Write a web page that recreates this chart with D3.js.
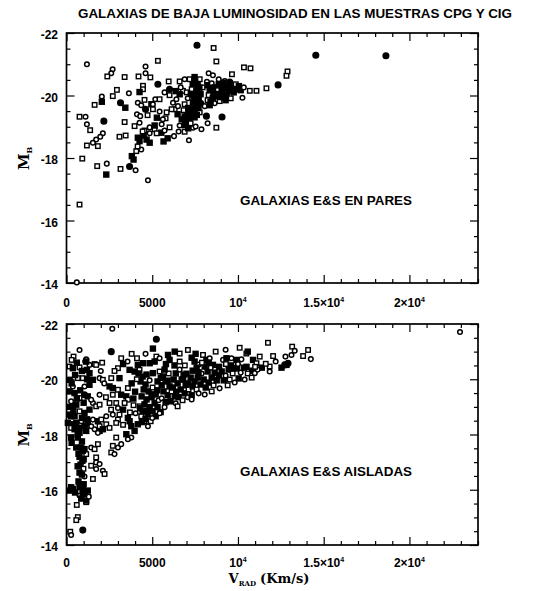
<!DOCTYPE html>
<html>
<head>
<meta charset="utf-8">
<script src="https://cdn.jsdelivr.net/npm/d3@7"></script>
<style>
  body { margin: 0; background: #fff; }
  text { fill: #000; }
</style>
</head>
<body>
<svg id="chart" width="535" height="591"></svg>
<script>
// ---- text and tick definitions ----
const chartTitle = "GALAXIAS DE BAJA LUMINOSIDAD EN LAS MUESTRAS CPG Y CIG";
const panelNames = ["GALAXIAS E&S EN PARES", "GALAXIAS E&S AISLADAS"];
const xMajorTicks = [0, 5000, 10000, 15000, 20000];
// [mantissa, exponent] for each major x tick label
const xTickLabels = [["0", ""], ["5000", ""], ["10", "4"], ["1.5\u00d710", "4"], ["2\u00d710", "4"]];
const yMajorTicks = [-22, -20, -18, -16, -14];
const yTickLabels = ["-22", "-20", "-18", "-16", "-14"];
const xDomain = [0, 24000];
const yDomain = [-22, -14];

// ---- galaxies: [V_RAD (km/s), M_B, marker] ; s/c = open square/circle, fs/fc = filled ----
const pairGalaxies = [
  [7610,-21.61,'fc'],[8580,-21.52,'s'],[1190,-21.00,'c'],[5330,-21.11,'s'],[8740,-21.09,'s'],
  [4610,-20.93,'c'],[4610,-20.71,'c'],[4890,-20.58,'s'],[2690,-20.84,'c'],[2610,-20.71,'c'],
  [2380,-20.61,'s'],[3390,-20.59,'s'],[4200,-20.61,'s'],[10350,-20.90,'s'],[10730,-20.87,'s'],
  [8290,-20.71,'c'],[8540,-20.65,'c'],[9650,-20.68,'s'],[5960,-20.45,'s'],[6600,-20.45,'s'],
  [6890,-20.52,'c'],[8190,-20.44,'c'],[5330,-20.36,'fc'],[4460,-20.31,'s'],[4460,-20.20,'s'],
  [4260,-20.11,'fs'],[3640,-20.07,'c'],[2940,-20.18,'s'],[2700,-19.98,'s'],[2060,-19.97,'c'],
  [1640,-19.70,'s'],[2060,-19.80,'fs'],[3150,-19.77,'fc'],[3430,-19.61,'fs'],[4160,-19.77,'c'],
  [4360,-19.69,'c'],[4550,-19.86,'s'],[5180,-19.88,'c'],[4950,-19.72,'fs'],[5430,-19.88,'s'],
  [6010,-20.20,'fc'],[6790,-20.15,'s'],[6210,-19.77,'c'],[6410,-19.88,'c'],[6890,-19.72,'s'],
  [10260,-19.93,'c'],[10690,-20.15,'s'],[11080,-20.15,'s'],[11660,-20.23,'s'],[12340,-20.34,'fc'],
  [12890,-20.77,'s'],[12830,-20.63,'s'],[760,-19.32,'s'],[1110,-19.32,'c'],[2180,-19.18,'fc'],
  [1190,-19.08,'c'],[1380,-18.89,'s'],[2120,-18.79,'c'],[1970,-18.68,'c'],[1730,-18.59,'c'],
  [1540,-18.49,'c'],[1190,-18.40,'s'],[1830,-18.38,'s'],[920,-17.98,'s'],[1790,-17.74,'s'],
  [2350,-17.82,'c'],[2320,-17.47,'fs'],[3150,-17.65,'s'],[3680,-17.73,'fc'],[4030,-17.61,'c'],
  [4750,-17.29,'c'],[3090,-18.68,'s'],[3450,-18.72,'s'],[3390,-19.15,'s'],[3810,-18.06,'fs'],
  [4070,-18.22,'s'],[4360,-18.27,'c'],[4160,-18.65,'fs'],[4260,-18.54,'fs'],[4850,-18.49,'fs'],
  [3970,-19.02,'s'],[4260,-19.13,'c'],[4110,-19.40,'c'],[4300,-19.34,'c'],[5270,-19.29,'fs'],
  [5780,-19.27,'s'],[6270,-18.70,'c'],[7140,-18.57,'c'],[6890,-18.84,'s'],[7380,-18.97,'c'],
  [7870,-18.92,'c'],[8740,-18.97,'s'],[9070,-19.31,'fc'],[8160,-19.34,'fc'],[6310,-19.56,'s'],
  [6500,-19.66,'c'],[5620,-19.24,'c'],[5530,-18.81,'fs'],[5040,-19.72,'c'],[5040,-19.56,'s'],
  [4550,-18.88,'s'],[4850,-18.98,'c'],[5140,-18.92,'s'],[5720,-18.88,'c'],[6010,-18.98,'s'],
  [760,-16.51,'s'],[600,-14.02,'c'],[14540,-21.29,'fc'],[18630,-21.27,'fc'],
  [7180,-20.52,'s'],[7470,-20.59,'fs'],[7770,-20.52,'s'],[7360,-20.36,'fs'],[7650,-20.33,'fs'],
  [7300,-20.20,'s'],[7590,-20.14,'fs'],[7820,-20.04,'fs'],[7420,-19.98,'fc'],[7710,-19.88,'fs'],
  [7360,-19.78,'s'],[7590,-19.69,'fs'],[7820,-19.75,'fc'],[7300,-19.59,'fs'],[7530,-19.53,'fs'],
  [7770,-19.46,'s'],[7070,-19.43,'fs'],[6890,-19.33,'fs'],[7180,-19.27,'fc'],[7470,-19.30,'fs'],
  [6830,-19.53,'s'],[7070,-19.91,'c'],[7010,-20.10,'s'],[7940,-20.26,'s'],[6600,-20.04,'fs'],
  [6370,-20.14,'fs'],[6660,-20.26,'c'],
  [8230,-20.33,'fs'],[8470,-20.39,'c'],[8640,-20.26,'fs'],[8880,-20.36,'fs'],[8350,-20.17,'fs'],
  [8580,-20.10,'fs'],[8820,-20.17,'s'],[9050,-20.23,'fs'],[8290,-20.01,'s'],[8530,-19.91,'fs'],
  [8760,-19.98,'fs'],[9000,-20.04,'fc'],[8230,-19.85,'s'],[8640,-19.75,'c'],[8930,-19.82,'s'],
  [9170,-19.94,'fs'],[9340,-20.01,'fs'],[9460,-20.14,'fs'],[9280,-20.33,'fs'],[9520,-20.43,'fc'],
  [9230,-20.46,'c'],[8880,-20.52,'c'],[9640,-20.26,'fs'],[9930,-20.20,'fs'],[10160,-20.17,'fs'],
  [9870,-20.36,'s'],[10340,-20.26,'c'],[9280,-19.85,'fs'],[9580,-19.91,'s'],[8060,-19.66,'c'],
  [8350,-19.69,'fs'],
  [6010,-20.01,'s'],[5720,-20.10,'c'],[6130,-19.56,'s'],[6480,-19.40,'fs'],[6720,-19.24,'fs'],
  [6950,-19.18,'fs'],[7240,-19.11,'s'],[6600,-19.04,'c'],[5840,-19.46,'s'],[5430,-19.49,'c'],
  [4730,-19.37,'s'],[4610,-19.56,'fc'],[5550,-19.08,'c'],[5140,-19.04,'fs'],[4850,-18.79,'c'],
  [4500,-18.72,'fs'],[4440,-18.85,'s'],[4670,-18.59,'fs'],[5260,-18.79,'s'],[5900,-18.63,'fs'],
  [5660,-18.53,'fs'],[6540,-18.85,'c'],[7530,-19.01,'c'],[8230,-19.11,'c'],[4150,-18.37,'s'],
  [3910,-17.95,'fs'],
  [7500,-20.45,'fs'],[7750,-20.25,'fs'],[7250,-20.05,'fs'],[7650,-19.95,'fs'],[7450,-19.82,'fs'],
  [7700,-19.60,'fs'],[7400,-19.45,'fs'],[7100,-19.60,'fs'],[7600,-19.38,'fs'],[8450,-20.22,'fs'],
  [8700,-20.05,'fs'],[9100,-20.10,'fs'],[8950,-19.95,'fs'],[9400,-20.25,'fs'],[9750,-20.10,'fs'],
  [10050,-20.30,'fs'],[8400,-19.80,'fs'],[9150,-20.40,'fs'],[6900,-19.05,'fs'],[7100,-18.95,'fs']
];

const isolatedGalaxies = [
  [2670,-21.83,'c'],[5240,-21.45,'fc'],[11750,-21.32,'s'],[13160,-21.18,'s'],[13310,-21.03,'c'],
  [760,-21.06,'c'],[2610,-21.00,'fc'],[5040,-21.11,'fs'],[7080,-21.06,'s'],[410,-20.82,'s'],
  [1150,-20.72,'c'],[1090,-20.64,'c'],[2080,-20.60,'s'],[3190,-20.76,'s'],[4110,-20.76,'s'],
  [5240,-20.82,'s'],[5430,-20.76,'c'],[5140,-20.64,'fs'],[5920,-20.88,'fs'],[6010,-20.70,'fs'],
  [4850,-20.58,'fs'],[4460,-20.58,'fs'],[4160,-20.52,'fs'],[6600,-20.64,'s'],[7300,-20.78,'fs'],
  [7470,-20.64,'fs'],[7710,-20.53,'c'],[7960,-20.88,'s'],[8160,-20.70,'fs'],[8350,-20.76,'c'],
  [8540,-20.52,'fs'],[9130,-20.70,'c'],[9330,-20.76,'fs'],[9620,-20.76,'c'],[9910,-20.70,'fs'],
  [10200,-20.72,'c'],[10490,-20.93,'s'],[10880,-20.70,'fs'],[11270,-20.82,'s'],[11080,-20.58,'s'],
  [10820,-20.31,'fs'],[10980,-20.22,'c'],[11850,-20.46,'s'],[12050,-20.84,'s'],[12540,-20.42,'fs'],
  [12830,-20.52,'fs'],[13120,-20.88,'c'],[9750,-20.40,'fc'],[180,-20.46,'s'],[760,-20.43,'s'],
  [1340,-20.52,'c'],[1640,-20.55,'s'],[3000,-20.40,'s'],[3680,-20.34,'fs'],[3970,-20.28,'fs'],
  [4260,-20.34,'s'],[5040,-20.22,'fs'],[5430,-20.28,'s'],[5620,-20.10,'fs'],[660,-20.04,'s'],
  [370,-19.74,'c'],[1050,-19.74,'c'],[1540,-19.98,'fs'],[1930,-20.04,'c'],[2120,-19.98,'s'],
  [2610,-20.04,'s'],[3090,-20.04,'fs'],[2510,-19.74,'fs'],[2700,-19.68,'fs'],[3000,-19.62,'s'],
  [3580,-19.68,'s'],[1050,-19.44,'fc'],[1240,-19.38,'fs'],[1930,-19.44,'c'],[2700,-19.44,'s'],
  [3190,-19.44,'fs'],[3490,-19.38,'fs'],[3580,-19.26,'s'],[2510,-19.14,'s'],[2900,-19.14,'s'],
  [3390,-19.14,'s'],[270,-19.20,'c'],[370,-19.02,'fs'],[570,-19.08,'fs'],[760,-18.84,'s'],
  [1050,-18.78,'fs'],[1340,-18.90,'fs'],[1540,-19.14,'c'],[1730,-19.02,'s'],[1930,-19.08,'s'],
  [270,-18.66,'fs'],[570,-18.42,'fs'],[80,-18.42,'fs'],[1540,-18.54,'c'],[1830,-18.48,'fs'],
  [2030,-18.54,'s'],[2320,-18.66,'c'],[2700,-18.72,'c'],[3090,-18.72,'s'],[3000,-18.54,'s'],
  [3000,-18.96,'c'],[3580,-18.60,'fs'],[3680,-18.48,'fs'],[3780,-18.30,'fs'],[3970,-18.13,'fs'],
  [4160,-18.37,'fs'],[4360,-18.66,'s'],[4550,-18.48,'s'],[4750,-18.30,'c'],[3490,-18.01,'fs'],
  [3780,-17.89,'c'],[3580,-17.83,'c'],[2900,-17.89,'s'],[1640,-18.19,'c'],[1930,-18.13,'fs'],
  [2700,-17.59,'s'],[3000,-17.53,'c'],[3190,-17.65,'c'],[2610,-17.35,'s'],[2800,-17.29,'c'],
  [760,-18.06,'fs'],[660,-17.89,'fs'],[270,-17.89,'fs'],[860,-17.53,'fs'],[1050,-17.47,'fs'],
  [1150,-17.29,'s'],[760,-17.19,'fs'],[930,-17.05,'fs'],[820,-16.91,'fs'],[990,-16.76,'s'],
  [760,-16.62,'fs'],[1050,-16.48,'c'],[1440,-16.87,'s'],[1730,-16.99,'c'],[1540,-16.39,'s'],
  [2120,-16.69,'c'],[950,-16.03,'fs'],[760,-16.09,'fs'],[1050,-15.91,'fs'],[760,-15.79,'c'],
  [860,-15.68,'fs'],[1150,-15.55,'s'],[270,-16.09,'fs'],[370,-16.03,'fs'],[1240,-15.97,'fs'],
  [660,-15.01,'s'],[570,-14.90,'s'],[220,-14.48,'s'],[270,-14.36,'c'],[950,-14.54,'fc'],
  [370,-20.40,'fs'],[1150,-20.64,'fs'],[1190,-20.34,'fs'],[1340,-20.22,'fs'],[1730,-20.52,'s'],
  [180,-19.98,'fs'],[950,-20.04,'s'],[1340,-19.80,'fs'],[180,-19.56,'fs'],[470,-19.50,'fs'],
  [760,-19.32,'s'],[1440,-19.26,'c'],[180,-18.72,'fs'],[470,-18.66,'fs'],[370,-18.37,'fs'],
  [860,-18.48,'c'],[1050,-18.30,'fs'],[1240,-18.37,'fs'],[270,-18.24,'s'],[470,-18.19,'fs'],
  [760,-18.24,'fs'],[1150,-18.13,'fs'],[1440,-18.30,'c'],[1930,-18.30,'s'],[2320,-18.37,'s'],
  [1830,-18.06,'c'],[2120,-18.19,'fs'],[2510,-18.24,'s'],[2900,-18.42,'s'],[570,-17.53,'fs'],
  [950,-17.41,'fs'],[1440,-17.53,'c'],[1640,-17.47,'s'],[1830,-17.65,'s'],[1730,-17.17,'s'],
  [1930,-16.93,'c'],[1730,-16.75,'c'],[2220,-16.57,'s'],[950,-15.85,'fs'],[1150,-15.61,'fs'],
  [180,-15.97,'fs'],[13800,-20.84,'s'],[14090,-21.06,'s'],[14250,-20.73,'c'],[12730,-20.52,'fc'],
  [12920,-20.58,'fc'],[22950,-21.71,'c'],[12770,-20.82,'c'],
  [4200,-20.21,'fs'],[4440,-20.10,'fs'],[4670,-20.17,'fs'],[4320,-19.92,'fs'],[4610,-19.81,'fs'],
  [4850,-19.96,'c'],[4500,-19.63,'fs'],[4790,-19.56,'fs'],[5020,-19.70,'s'],[4380,-19.38,'fs'],
  [4670,-19.27,'fs'],[4960,-19.35,'fs'],[5200,-19.45,'fs'],[4550,-19.09,'fs'],[4850,-18.99,'fs'],
  [5140,-19.13,'fs'],[5370,-19.24,'c'],[4440,-18.84,'fs'],[4730,-18.74,'fs'],[5020,-18.84,'fs'],
  [5310,-18.99,'fs'],[4610,-18.56,'fs'],[4910,-18.48,'s'],[5200,-18.66,'fs'],[5490,-18.81,'fs'],
  [4260,-19.02,'s'],[4030,-18.77,'c'],[3910,-19.06,'s'],
  [5310,-19.92,'fs'],[5550,-19.78,'fs'],[5780,-19.92,'fs'],[6010,-19.74,'fs'],[5660,-19.56,'fs'],
  [5900,-19.42,'fs'],[6130,-19.56,'s'],[6310,-19.38,'fs'],[5550,-19.31,'c'],[5780,-19.17,'fs'],
  [6070,-19.20,'fs'],[6370,-19.13,'c'],[6250,-19.99,'fs'],[6480,-19.85,'fs'],[6720,-19.99,'fs'],
  [6370,-20.21,'fs'],[6600,-20.35,'c'],[6830,-20.17,'fs'],[6950,-19.78,'fs'],[6660,-19.63,'fs'],
  [6890,-19.49,'fs'],[7120,-19.63,'s'],[6540,-19.35,'fs'],[6770,-19.24,'s'],[7070,-19.35,'c'],
  [5960,-20.21,'s'],[5720,-20.35,'fs'],
  [7240,-20.06,'fs'],[7470,-19.92,'fs'],[7360,-19.74,'fs'],[7650,-20.06,'fs'],[7590,-19.63,'s'],
  [7820,-19.81,'fs'],[8000,-19.99,'fs'],[7880,-20.21,'c'],[8120,-19.70,'fs'],[8290,-19.88,'fs'],
  [8470,-20.06,'fs'],[8230,-20.28,'fs'],[8410,-20.42,'c'],[8580,-19.78,'s'],[8760,-19.96,'fs'],
  [8640,-20.24,'fs'],[8880,-20.14,'fs'],[7360,-20.31,'fs'],[7590,-20.42,'fs'],[8060,-20.46,'fs'],
  [7710,-19.49,'c'],[7300,-19.42,'fs'],
  [9050,-20.28,'fs'],[9280,-20.13,'c'],[9460,-20.35,'fs'],[9690,-20.21,'s'],[9930,-20.39,'fs'],
  [9170,-19.96,'fs'],[9520,-19.99,'s'],[10160,-20.24,'c'],[10340,-20.42,'fs'],[10570,-20.21,'s'],
  [10040,-20.03,'fs'],[9810,-19.88,'c'],[11390,-20.42,'fs'],[11620,-20.56,'s'],[12200,-20.64,'c'],
  [11150,-20.35,'c'],
  [5430,-18.77,'c'],[5720,-18.99,'c'],[6480,-19.02,'s'],[7300,-19.27,'c'],[8060,-19.45,'c'],
  [8470,-19.56,'s'],[8930,-19.67,'c'],[9400,-19.78,'s'],[10390,-19.99,'c'],[10800,-20.06,'s'],
  [11850,-20.28,'c'],
  [6310,-21.00,'fs'],[6600,-20.93,'s'],[7530,-20.92,'fs'],[8700,-21.00,'s'],[9280,-21.07,'c'],
  [10100,-21.14,'s'],[10570,-21.00,'fs'],[3800,-20.92,'s'],[3560,-20.64,'c'],[4610,-20.92,'c'],
  [300,-20.70,'s'],[600,-20.60,'fs'],[900,-20.30,'fs'],[500,-20.15,'fs'],[1200,-20.00,'fs'],
  [300,-19.85,'fs'],[800,-19.60,'fs'],[600,-19.30,'fs'],[1000,-19.15,'fs'],[200,-19.00,'fs'],
  [400,-18.85,'fs'],[900,-18.60,'fs'],[1200,-18.55,'fs'],[650,-18.00,'fs'],[300,-17.70,'fs'],
  [900,-17.75,'fs'],[700,-17.30,'fs'],[1000,-17.10,'fs'],[650,-16.85,'fs'],[900,-16.55,'fs'],
  [700,-16.30,'fs'],[1000,-16.20,'fs'],[500,-15.90,'fs'],[1300,-15.75,'c'],[600,-15.45,'s'],
  [3800,-19.85,'fs'],[4000,-19.55,'fs'],[3900,-19.30,'fs'],[4100,-20.00,'s'],[5500,-20.05,'fs'],
  [5900,-19.95,'fs'],[6200,-19.70,'fs'],[5300,-19.60,'fs'],[5000,-19.45,'fs'],[6400,-19.55,'fs'],
  [6800,-20.00,'fs'],[7000,-20.20,'fs'],[7100,-19.85,'fs'],[7700,-20.25,'fs'],[7900,-20.60,'s'],
  [8300,-20.60,'fs'],[8900,-20.45,'fs'],[9300,-20.55,'s'],[9600,-20.50,'fs'],[10000,-20.55,'c'],
  [10500,-20.45,'fs'],[11000,-20.45,'s'],[4300,-18.95,'fs'],[4700,-18.85,'fs'],[5000,-18.60,'c'],
  [4400,-18.45,'fs'],[3700,-18.80,'s'],[3300,-18.90,'fs'],[3300,-18.35,'s'],[2600,-18.90,'s'],
  [2300,-19.35,'s'],[2200,-19.85,'c'],[2800,-20.30,'s'],[3300,-20.55,'fs'],[2000,-20.30,'c'],
  [6300,-20.50,'fs'],[6900,-20.50,'s'],[5800,-20.55,'fs']
];

// ---- layout ----
const svg = d3.select("#chart");
const frameLeft = 66.5, frameRight = 478;
const panels = [
  { data: pairGalaxies,     top: 33,  bottom: 283, name: panelNames[0], nameY: 204.5, labelY: 307 },
  { data: isolatedGalaxies, top: 324, bottom: 545, name: panelNames[1], nameY: 476,   labelY: 567 }
];
const boldSans = "'Liberation Sans', Arial, Helvetica, sans-serif";
const serif = "'DejaVu Serif', 'Liberation Serif', serif";

svg.append("text")
  .attr("x", 78).attr("y", 18)
  .attr("font-family", boldSans).attr("font-weight", "bold").attr("font-size", 12.5)
  .attr("textLength", 434).attr("lengthAdjust", "spacingAndGlyphs")
  .text(chartTitle);

const xMinor = d3.range(0, 24001, 1000).filter(v => !xMajorTicks.includes(v));
const yMinor = d3.range(-22, -13.99, 0.5).filter(v => !yMajorTicks.includes(v));

panels.forEach(p => {
  const x = d3.scaleLinear().domain(xDomain).range([frameLeft, frameRight]);
  const y = d3.scaleLinear().domain(yDomain).range([p.top, p.bottom]);
  const g = svg.append("g");

  // inward ticks on all four sides
  const tickSets = [
    [d3.axisBottom(x), `translate(0,${p.bottom})`, xMajorTicks, xMinor],
    [d3.axisTop(x),    `translate(0,${p.top})`,    xMajorTicks, xMinor],
    [d3.axisLeft(y),   `translate(${frameLeft},0)`, yMajorTicks, yMinor],
    [d3.axisRight(y),  `translate(${frameRight},0)`, yMajorTicks, yMinor]
  ];
  tickSets.forEach(([axis, tr, major, minor]) => {
    [[major, 8], [minor, 4]].forEach(([vals, len]) => {
      const a = g.append("g").attr("transform", tr)
        .call(axis.tickValues(vals).tickSizeInner(-len).tickSizeOuter(0).tickFormat(""));
      a.select(".domain").remove();
      a.selectAll("line").attr("stroke", "#000").attr("stroke-width", 1.2);
    });
  });

  g.append("rect")
    .attr("x", frameLeft).attr("y", p.top)
    .attr("width", frameRight - frameLeft).attr("height", p.bottom - p.top)
    .attr("fill", "none").attr("stroke", "#000").attr("stroke-width", 1.7);

  // y tick labels
  g.selectAll(".ylab").data(yMajorTicks).enter().append("text")
    .attr("x", 58).attr("y", d => y(d) + 2)
    .attr("text-anchor", "end").attr("dominant-baseline", "central")
    .attr("font-family", boldSans).attr("font-weight", "bold").attr("font-size", 12)
    .text((d, i) => yTickLabels[i]);

  // x tick labels with exponents
  xMajorTicks.forEach((v, i) => {
    const [mant, exp] = xTickLabels[i];
    const t = g.append("text")
      .attr("x", x(v)).attr("y", p.labelY)
      .attr("text-anchor", "middle")
      .attr("font-family", boldSans).attr("font-weight", "bold").attr("font-size", 12);
    t.append("tspan").text(mant);
    if (exp) t.append("tspan").attr("dy", -5).attr("font-size", 7).text(exp);
  });

  // y axis title M_B
  const yt = g.append("text")
    .attr("transform", `translate(29,${(p.top + p.bottom) / 2 + 12}) rotate(-90)`)
    .attr("font-family", serif).attr("font-weight", "bold").attr("font-size", 15);
  yt.append("tspan").text("M");
  yt.append("tspan").attr("dy", 3).attr("font-size", 8).text("B");

  // panel caption
  g.append("text")
    .attr("x", 240).attr("y", p.nameY)
    .attr("font-family", boldSans).attr("font-weight", "bold").attr("font-size", 12)
    .attr("textLength", 172).attr("lengthAdjust", "spacingAndGlyphs")
    .text(p.name);

  // markers
  const marks = g.append("g");
  p.data.forEach(([v, m, t]) => {
    const cx = x(v), cy = y(m);
    if (t === 's' || t === 'fs') {
      const s = t === 's' ? 4.5 : 5;
      marks.append("rect")
        .attr("x", cx - s / 2).attr("y", cy - s / 2).attr("width", s).attr("height", s)
        .attr("fill", t === 's' ? "#fff" : "#000")
        .attr("stroke", "#000").attr("stroke-width", 1.4);
    } else {
      marks.append("circle")
        .attr("cx", cx).attr("cy", cy).attr("r", t === 'c' ? 2.3 : 2.8)
        .attr("fill", t === 'c' ? "#fff" : "#000")
        .attr("stroke", "#000").attr("stroke-width", 1.5);
    }
  });
});

// x axis title under the lower panel
const xt = svg.append("text")
  .attr("x", 269).attr("y", 583)
  .attr("text-anchor", "middle")
  .attr("font-family", serif).attr("font-weight", "bold").attr("font-size", 13);
xt.append("tspan").text("V");
xt.append("tspan").attr("dy", 3).attr("font-size", 7).text("RAD");
xt.append("tspan").attr("dy", -3).attr("dx", 4).text("(Km/s)");
</script>
</body>
</html>
